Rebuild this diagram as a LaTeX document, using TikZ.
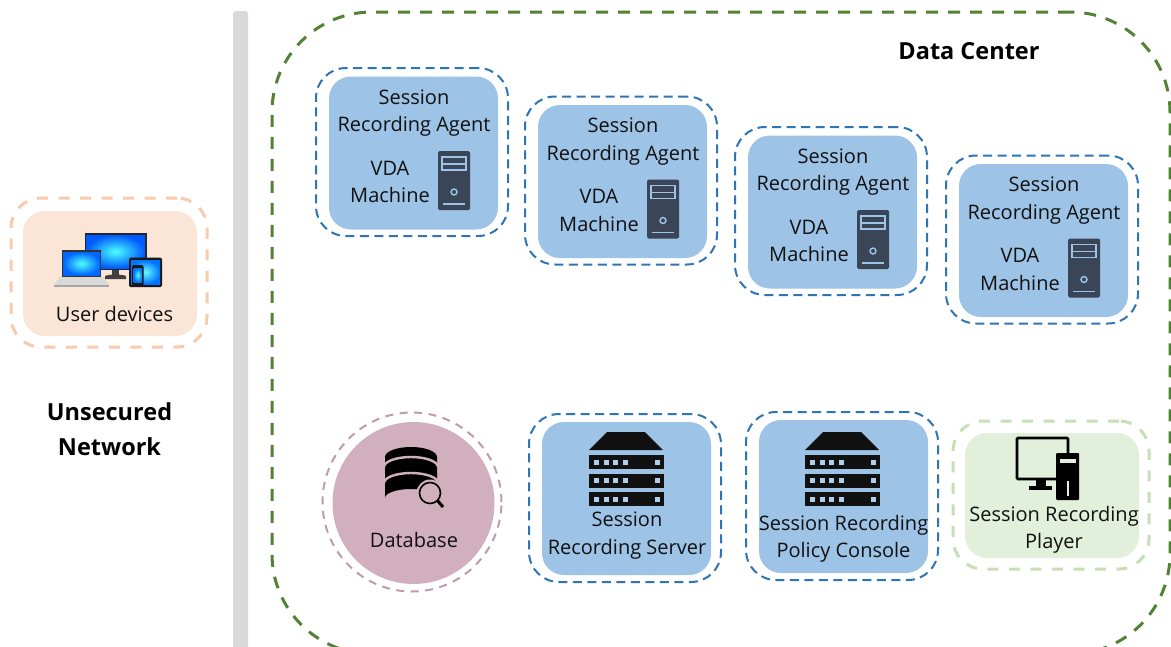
\documentclass[tikz,border=0pt]{standalone}
\usepackage{fontspec}
\setmainfont{Open Sans}
\definecolor{bluefill}{HTML}{9DC3E6}
\definecolor{bluedash}{HTML}{2E75B6}
\definecolor{orangefill}{HTML}{FBE5D6}
\definecolor{orangedash}{HTML}{F8CBAD}
\definecolor{pinkfill}{HTML}{D1AFBC}
\definecolor{pinkdash}{HTML}{C09BAA}
\definecolor{greenfill}{HTML}{E2EFDA}
\definecolor{greendash}{HTML}{C5E0B4}
\definecolor{dcgreen}{HTML}{548235}
\definecolor{barfill}{HTML}{D9D9D9}
\definecolor{towerc}{HTML}{3A4558}
\definecolor{ink}{HTML}{111111}
\tikzset{
  x=1pt,y=-1pt,
  txt/.style={font=\fontsize{20}{27.5}\selectfont,text=ink,align=center,inner sep=0pt},
  ttl/.style={font=\fontsize{23.5}{35}\selectfont\bfseries,text=black,align=center,inner sep=0pt},
  inner box/.style={rounded corners=22,inner sep=0pt,minimum width=169,minimum height=153},
  outer box/.style={rounded corners=30,inner sep=0pt,minimum width=192,minimum height=168,draw,line width=2pt,dash pattern=on 9pt off 5.5pt},
  bluein/.style={inner box,fill=bluefill},
  blueout/.style={outer box,draw=bluedash},
  lightout/.style={outer box,line width=3pt,minimum width=196,minimum height=148,dash pattern=on 11pt off 10.5pt},
}
\newcommand{\towericon}[2]{%
  \begin{scope}[shift={(#1,#2)}]
    \fill[towerc,rounded corners=1.5] (0,0) rectangle (32,59);
    \draw[bluefill,line width=1.1] (4,6) rectangle (28,13) (4,13) rectangle (28,19);
    \draw[bluefill,line width=1.4] (16,41) circle (3);
    \draw[bluefill,line width=1.2] (5,53) -- (27,53);
  \end{scope}}
\newcommand{\rackicon}[2]{%
  \begin{scope}[shift={(#1,#2)}]
    \fill[ink] (18,0) -- (56,0) -- (74,18) -- (0,18) -- cycle;
    \foreach \r in {23,41.5,60}{
      \fill[ink] (0,\r) rectangle (75,\r+14);
      \foreach \c in {5,15,24,34,66}{\fill[bluefill!80!white] (\c,\r+4.5) rectangle +(5,5);}
    }
  \end{scope}}
\newcommand{\agent}[3]{%
  \begin{scope}[shift={(#2,#3)}]
    \node[bluein] (#1) at (84.5,76) {};
    \node[blueout] (#1out) at (83,75) {};
    \node[txt] (#1t) at (85,36) {Session\\Recording Agent};
    \node[txt] (#1v) at (61,105) {VDA\\Machine};
    \towericon{109}{74}
  \end{scope}}
\begin{document}
\begin{tikzpicture}
\useasboundingbox (0,0) rectangle (1171,646);
\clip (0,0) rectangle (1171,646);
\fill[white] (0,0) rectangle (1171,646);
% bar
\fill[barfill,rounded corners=3] (233,11) rectangle (248,660);
% data centre
\node[draw=dcgreen,line width=3pt,dash pattern=on 12pt off 10pt,rounded corners=100,inner sep=0pt,minimum width=898,minimum height=642] (dc) at (721,333) {};
\node[ttl] (dct) at (969,51.5) {Data Center};
\node[ttl] (unsec) at (109.5,429.5) {Unsecured\\Network};
% user devices
\node[inner box,fill=orangefill,minimum width=174,minimum height=125] (ud) at (110,273.5) {};
\node[outer box,lightout,draw=orangedash,minimum height=149] (udo) at (109,272.5) {};
\node[txt] (udt) at (114.5,313.5) {User devices};
\fill[black!85] (84.5,233) rectangle (146.5,270);
\shade[inner color=cyan!70!white,outer color=blue!65!cyan] (86,235) rectangle (145,268);
\fill[black!75] (112,270) rectangle (119,276);
\fill[black!75] (105,276) .. controls (110,274) and (121,274) .. (126,276) -- (126,279) -- (105,279) -- cycle;
\fill[black!80] (61.5,250) rectangle (101,277);
\shade[inner color=cyan!70!white,outer color=blue!60!cyan] (63,252) rectangle (100,275);
\fill[black!15] (60,277) -- (103,277) -- (109,285) -- (54,285) -- cycle;
\fill[black!35] (54,285) rectangle (109,287);
\fill[black!90,rounded corners=1.5] (129,257.5) rectangle (162,287);
\shade[inner color=cyan!60!white,outer color=blue!55!cyan] (131,260) rectangle (160,284);
\fill[black!90,rounded corners=1.5] (132,265) rectangle (143.5,285.5);
\shade[inner color=cyan!70!white,outer color=blue!55!cyan] (133.5,268) rectangle (142,282);
% agents
\agent{a}{329}{77}
\agent{b}{538}{105.5}
\agent{c}{748}{136}
\agent{d}{959}{164.5}
% database
\node[circle,fill=pinkfill,minimum size=162,inner sep=0pt] (db) at (413.5,503) {};
\node[circle,draw=pinkdash,line width=2pt,dash pattern=on 8pt off 6.5pt,minimum size=179,inner sep=0pt] (dbo) at (412,502) {};
\node[txt] (dbt) at (414,540) {Database};
\begin{scope}[shift={(411,447)}]
  \fill[black] (-26,10) -- (-26,51) arc[start angle=180,end angle=360,x radius=26,y radius=9] -- (26,10) arc[start angle=0,end angle=-180,x radius=26,y radius=10] -- cycle;
  \draw[pinkfill,line width=2.4pt] (-27,20) arc[start angle=180,end angle=360,x radius=27,y radius=10];
  \draw[pinkfill,line width=2.4pt] (-27,36) arc[start angle=180,end angle=360,x radius=27,y radius=10];
  \fill[pinkfill] (19,46) circle (13.5);
  \draw[black,line width=1.6pt] (19,46) circle (10.5);
  \draw[black,line width=3pt] (26.5,53.5) -- (32,60);
\end{scope}
% server
\node[bluein] (srv) at (626.5,498.5) {};
\node[blueout] (srvo) at (625,498) {};
\rackicon{589}{432}
\node[txt] (srvt) at (627,535.5) {Session\\Recording Server};
% policy
\node[bluein] (pol) at (843.5,496.5) {};
\node[blueout] (polo) at (842,496) {};
\rackicon{805}{432}
\node[txt] (polt) at (843.5,539) {Session Recording\\Policy Console};
% player
\node[inner box,fill=greenfill,minimum width=174,minimum height=125] (pl) at (1052,495.5) {};
\node[outer box,lightout,draw=greendash] (plo) at (1051,495) {};
\node[txt] (plt) at (1054,530) {Session Recording\\Player};
\draw[black,line width=2.6pt,rounded corners=1] (1068,453) -- (1068,438) -- (1017,438) -- (1017,479) -- (1056,479);
\fill[black] (1036,480) rectangle (1046,488);
\fill[black] (1029,486) rectangle (1052,490);
\fill[black,rounded corners=1] (1056,453) rectangle (1079,500);
\fill[greenfill] (1060,459) rectangle (1076,463);
\fill[greenfill] (1067,481) rectangle (1068.5,496);
\end{tikzpicture}
\end{document}
